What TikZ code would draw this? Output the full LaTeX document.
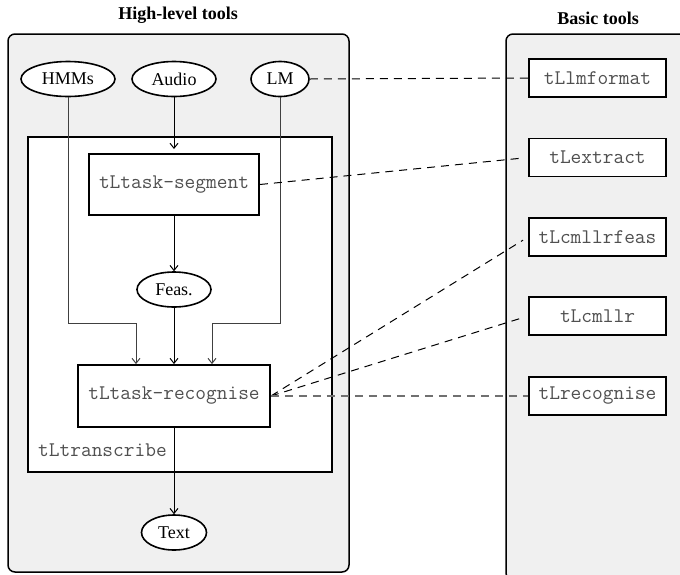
\documentclass[tikz,border=0pt]{standalone}
\usepackage{fontspec}
\setmainfont{Liberation Serif}
\usetikzlibrary{shapes.geometric,arrows.meta}
\definecolor{panelgray}{HTML}{F0F0F0}
\definecolor{monogray}{HTML}{505050}
\definecolor{linkgray}{HTML}{707070}
\begin{document}
\begin{tikzpicture}[x=1pt,y=-1pt,
  panel/.style={draw, line width=1.5pt, rounded corners=7pt, fill=panelgray},
  paneltitle/.style={font=\fontsize{18}{21}\selectfont\bfseries},
  src/.style={ellipse, draw, line width=1.6pt, fill=white, inner sep=0pt,
    minimum height=35pt, font=\fontsize{18}{21}\selectfont},
  mono/.style={font=\fontsize{20.8}{24}\selectfont\ttfamily, text=monogray},
  tool/.style={rectangle, draw, line width=1.8pt, fill=white, inner sep=0pt, mono},
  basic/.style={tool, minimum width=137pt, minimum height=38pt},
  flow/.style={-{Straight Barb[length=5pt,width=8pt]}, line width=1pt},
  feed/.style={flow, draw=black!75},
  link/.style={dash pattern=on 8pt off 6pt, line width=1pt},
]
\useasboundingbox (0,0) rectangle (680,574);

% the two tool panels
\draw[panel] (8,34) rectangle (349,572);
\draw[panel] (506,34) rectangle (700,580);
\node[paneltitle] (hltitle) at (178,15) {High-level tools};
\node[paneltitle] (bttitle) at (598,18) {Basic tools};

% inputs
\node[src, minimum width=94pt] (hmm) at (68,79) {HMMs};
\node[src, minimum width=84pt] (audio) at (174,79) {Audio};
\node[src, minimum width=58pt] (lm) at (280,79) {LM};

% tLtranscribe wrapper
\node[draw, line width=2pt, fill=white, minimum width=304pt, minimum height=335pt,
  inner sep=0pt] (trans) at (180,304.5) {};
\node[anchor=west, mono, inner sep=0pt] (translabel) at (38,450) {tLtranscribe};

\node[tool, minimum width=170pt, minimum height=61pt] (seg) at (174,184.5) {tLtask-segment};
\node[src, minimum width=74pt] (feas) at (174,289.5) {Feas.};
\node[tool, minimum width=192pt, minimum height=62pt] (rec) at (174,396) {tLtask-recognise};
\node[src, minimum width=65pt] (text) at (174,532.5) {Text};

% basic tools
\node[basic] (lmf) at (597.5,78) {tLlmformat};
\node[basic] (ext) at (597.5,157.5) {tLextract};
\node[basic] (cfeas) at (597.5,237) {tLcmllrfeas};
\node[basic] (cml) at (597.5,316) {tLcmllr};
\node[basic] (trec) at (597.5,396) {tLrecognise};

% data flow
\coordinate (segin) at (174,149);
\draw[flow] (audio.south) -- (segin);
\draw[flow] (seg.south) -- (feas.north);
\draw[flow] (feas.south) -- (rec.north);
\draw[feed] (hmm.south) |- (136,323) -- ([xshift=-38pt]rec.north);
\draw[feed] (lm.south) |- (212,323) -- ([xshift=38pt]rec.north);
\draw[flow] (rec.south) -- (text.north);

% links to the basic tools
\draw[link] (lm.east) -- (lmf.west);
\draw[link, shorten >=4pt] (seg.east) -- (ext.west);
\draw[link, shorten >=6pt] (rec.east) -- (cfeas.west);
\draw[link, shorten >=6pt] (rec.east) -- (cml.west);
\draw[link, draw=linkgray, line width=1.3pt] (rec.east) -- (trec.west);
\end{tikzpicture}
\end{document}
